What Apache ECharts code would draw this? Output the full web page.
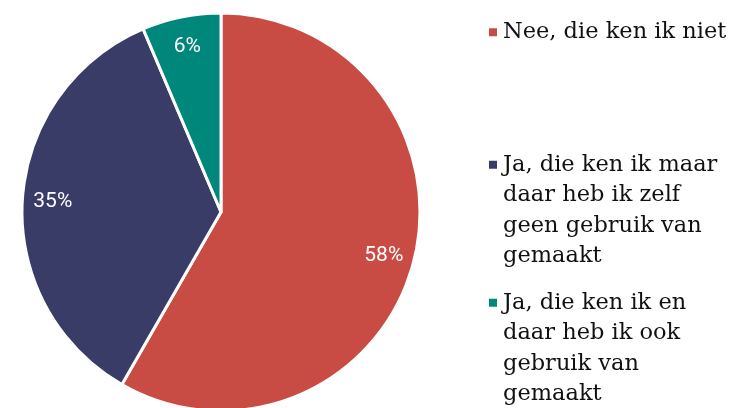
<!DOCTYPE html>
<html>
<head>
<meta charset="utf-8">
<script src="https://cdn.jsdelivr.net/npm/echarts@6/dist/echarts.min.js"></script>
<style>
  html, body { margin: 0; padding: 0; background: #fff; }
  #chart { width: 733px; height: 408px; }
</style>
</head>
<body>
<div id="chart"></div>
<script>
// antwoorden en aandelen (%)
const categories = [
  'Nee, die ken ik niet',
  'Ja, die ken ik maar\ndaar heb ik zelf\ngeen gebruik van\ngemaakt',
  'Ja, die ken ik en\ndaar heb ik ook\ngebruik van\ngemaakt'
]
const shares = [58.3, 35.3, 6.4]
const colors = ['#c94c44', '#3a3c68', '#00877b']

const pieData = categories.map((name, i) => ({ name: name, value: shares[i] }))

const lineH = 30.5

function legendFor(name, top) {
  const extra = name.split('\n').length - 1
  return {
    orient: 'vertical',
    left: 487,
    top: top,
    padding: 0,
    icon: 'rect',
    itemWidth: 10,
    itemHeight: 10,
    selectedMode: false,
    data: [name],
    // lege regels ervoor zodat het blokje bij de eerste regel staat
    formatter: n => '\n'.repeat(extra) + n,
    textStyle: {
      fontFamily: 'DejaVu Serif',
      fontSize: 22.5,
      lineHeight: lineH,
      color: '#111'
    }
  }
}

const chart = echarts.init(document.getElementById('chart'))
chart.setOption({
  animation: false,
  color: colors,
  legend: [
    legendFor(categories[0], 17),
    legendFor(categories[1], 58),
    legendFor(categories[2], 196)
  ],
  series: [
    {
      type: 'pie',
      center: [221, 212],
      radius: 199,
      startAngle: 90,
      clockwise: true,
      silent: true,
      itemStyle: { borderColor: '#fff', borderWidth: 3 },
      label: { show: false },
      labelLine: { show: false },
      data: pieData
    },
    {
      // alleen voor de plaats van de percentages
      type: 'pie',
      center: [221, 212],
      radius: [132, 199],
      startAngle: 90,
      clockwise: true,
      silent: true,
      itemStyle: { color: 'rgba(0,0,0,0)' },
      label: {
        show: true,
        position: 'inside',
        color: '#fff',
        fontFamily: 'Roboto',
        fontSize: 21,
        formatter: p => Math.round(p.value) + '%'
      },
      labelLine: { show: false },
      data: pieData
    }
  ]
})
</script>
</body>
</html>
